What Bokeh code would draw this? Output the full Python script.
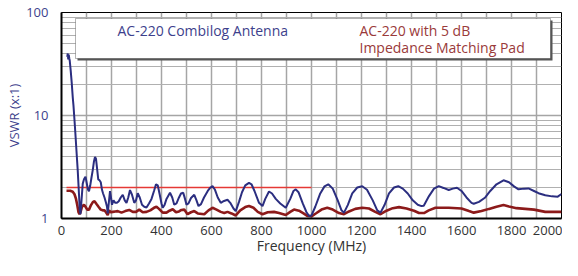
from bokeh.plotting import figure
from bokeh.models import Range1d, FixedTicker, BoxAnnotation, Label, PrintfTickFormatter
from bokeh.embed import file_html
from bokeh.resources import INLINE

# ---- data ----
blue_f = [23, 25, 27, 29, 31, 33, 37, 41, 45, 48, 52, 55, 60, 65, 69, 73, 76, 80, 85, 90,
          96, 101, 106, 110, 115, 120, 125, 130, 134, 138, 142, 147, 152, 157, 162, 166, 172, 178, 182, 185,
          189, 194, 198, 202, 208, 215, 222, 229, 237, 245, 253, 260, 267, 274, 282, 291, 298, 305, 313, 322,
          331, 340, 350, 360, 370, 378, 385, 393, 400, 405, 412, 420, 434, 443, 451, 460, 470, 478, 487, 494,
          500, 508, 518, 531, 540, 548, 558, 570, 585, 596, 604, 614, 625, 637, 650, 664, 675, 688, 697, 710,
          722, 735, 750, 760, 772, 790, 804, 815, 830, 842, 857, 875, 897, 915, 928, 937, 948, 965, 980, 990,
          1000, 1015, 1035, 1052, 1067, 1085, 1105, 1120, 1130, 1145, 1163, 1183, 1203, 1222, 1245, 1263, 1276, 1292, 1310, 1330,
          1347, 1365, 1385, 1405, 1425, 1440, 1449, 1470, 1490, 1509, 1528, 1549, 1565, 1582, 1600, 1620, 1640, 1649, 1670, 1695,
          1715, 1740, 1768, 1790, 1810, 1828, 1850, 1868, 1890, 1908, 1935, 1962, 1985, 2000]
blue_v = [37, 40, 35, 39, 36, 34, 27, 20.6, 15, 12.4, 9, 7.0, 4.5, 2.9, 1.9, 1.22, 1.1, 1.5, 2.18, 2.4,
          2.55, 2.2, 1.9, 1.84, 2.1, 2.5, 2.95, 3.6, 3.95, 3.8, 3.1, 2.4, 2.35, 2.25, 1.9, 1.76, 1.6, 1.42, 1.3, 1.12,
          1.4, 1.84, 1.6, 1.36, 1.5, 1.42, 1.42, 1.47, 1.6, 1.70, 1.5, 1.42, 1.6, 1.89, 1.7, 1.42, 1.5, 1.76, 1.6, 1.36,
          1.3, 1.28, 1.4, 1.55, 1.85, 2.15, 2.1, 1.7, 1.4, 1.27, 1.35, 1.55, 1.78, 1.6, 1.36, 1.4, 1.6, 1.75, 1.78, 1.55,
          1.36, 1.4, 1.58, 1.70, 1.5, 1.32, 1.38, 1.6, 1.85, 2.0, 2.06, 1.9, 1.6, 1.42, 1.48, 1.52, 1.42, 1.25, 1.18, 1.45,
          1.8, 2.1, 2.22, 2.15, 1.85, 1.42, 1.32, 1.55, 1.83, 1.75, 1.55, 1.4, 1.27, 1.55, 1.85, 1.92, 1.8, 1.4, 1.15, 1.06,
          1.07, 1.3, 1.75, 2.05, 2.15, 1.95, 1.5, 1.2, 1.14, 1.35, 1.75, 2.0, 2.06, 1.9, 1.5, 1.2, 1.14, 1.35, 1.75, 2.0,
          2.06, 1.95, 1.75, 1.5, 1.36, 1.32, 1.33, 1.65, 1.95, 2.06, 1.98, 1.89, 1.95, 1.99, 1.85, 1.6, 1.42, 1.39, 1.45, 1.6,
          1.85, 2.15, 2.35, 2.25, 2.05, 1.92, 1.95, 1.96, 1.85, 1.76, 1.68, 1.64, 1.63, 1.73]

red_f = [20, 35, 45, 52, 58, 63, 68, 72, 76, 82, 90, 96, 103, 110, 118, 126, 132, 140, 148, 157,
         165, 172, 178, 185, 190, 197, 205, 215, 225, 240, 255, 271, 285, 298, 311, 325, 340, 355, 370, 380,
         390, 405, 420, 432, 445, 458, 470, 480, 491, 504, 518, 531, 545, 571, 588, 604, 620, 637, 651, 664,
         680, 697, 715, 735, 750, 768, 785, 804, 825, 850, 870, 897, 915, 930, 950, 968, 983, 1000, 1020, 1040,
         1063, 1085, 1110, 1130, 1150, 1175, 1203, 1230, 1255, 1276, 1300, 1325, 1350, 1380, 1410, 1430, 1450, 1469, 1496, 1549,
         1600, 1630, 1649, 1680, 1710, 1740, 1768, 1790, 1820, 1855, 1890, 1935, 2000]
red_v = [1.86, 1.86, 1.82, 1.72, 1.55, 1.35, 1.15, 1.1, 1.15, 1.3, 1.36, 1.3, 1.22, 1.22, 1.35, 1.45, 1.47, 1.38, 1.3, 1.22,
         1.2, 1.2, 1.15, 1.08, 1.2, 1.15, 1.16, 1.17, 1.18, 1.14, 1.18, 1.21, 1.16, 1.16, 1.22, 1.15, 1.16, 1.2, 1.27, 1.30,
         1.24, 1.14, 1.14, 1.19, 1.23, 1.15, 1.17, 1.21, 1.22, 1.1, 1.15, 1.18, 1.12, 1.1, 1.2, 1.27, 1.22, 1.16, 1.13, 1.16,
         1.12, 1.07, 1.2, 1.29, 1.32, 1.27, 1.16, 1.1, 1.15, 1.16, 1.13, 1.08, 1.16, 1.22, 1.19, 1.12, 1.06, 1.05, 1.13, 1.22,
         1.27, 1.22, 1.13, 1.1, 1.17, 1.24, 1.27, 1.25, 1.16, 1.1, 1.19, 1.26, 1.29, 1.25, 1.19, 1.13, 1.13, 1.2, 1.27, 1.27,
         1.25, 1.18, 1.14, 1.18, 1.24, 1.3, 1.35, 1.31, 1.26, 1.24, 1.22, 1.16, 1.16]

ref_f = [20, 1000]
ref_v = [2, 2]

x_ticks = [0, 200, 400, 600, 800, 1000, 1200, 1400, 1600, 1800, 2000]
x_grid = list(range(0, 2001, 100))
y_ticks = [1, 10, 100]
y_minor = [2, 3, 4, 5, 6, 7, 8, 9, 20, 30, 40, 50, 60, 70, 80, 90]

x_title = "Frequency (MHz)"
y_title = "VSWR (x:1)"
name_blue = "AC-220 Combilog Antenna"
name_red_1 = "AC-220 with 5 dB"
name_red_2 = "Impedance Matching Pad"

BLUE = "#2b2e80"
RED = "#8c1a1a"
FONT = "Open Sans"

# frame geometry (canvas pixels)
W, H = 562, 260
LEFT, RIGHT, TOP, BOTTOM = 61, 1, 12, 42
FW = W - LEFT - RIGHT
FH = H - TOP - BOTTOM
PX_X = 2000 / FW            # MHz per pixel
PX_Y = 2.0 / FH             # decades per pixel


def fx(px):   # pixel offset from frame left -> MHz
    return px * PX_X


def fy(px):   # pixel offset below frame top -> VSWR (log axis)
    return 10 ** ((FH - px) * PX_Y)


p = figure(width=W, height=H, y_axis_type="log",
           x_range=Range1d(0, 2000), y_range=Range1d(1, 100),
           output_backend="svg", toolbar_location=None,
           min_border_left=LEFT, min_border_right=RIGHT,
           min_border_top=TOP, min_border_bottom=BOTTOM)
p.background_fill_color = "white"
p.border_fill_color = "white"
p.outline_line_color = "black"
p.outline_line_width = 1

# grid
p.xgrid.ticker = FixedTicker(ticks=x_grid)
p.xgrid.grid_line_color = "#a5a5a5"
p.xgrid.grid_line_width = 1.5
p.ygrid.ticker = FixedTicker(ticks=y_ticks, minor_ticks=y_minor)
p.ygrid.grid_line_color = "#a5a5a5"
p.ygrid.grid_line_width = 1.5
p.ygrid.minor_grid_line_color = "#b0b0b0"
p.ygrid.minor_grid_line_width = 1.2

# axes
p.xaxis.ticker = FixedTicker(ticks=x_ticks)
p.yaxis.ticker = FixedTicker(ticks=y_ticks, minor_ticks=y_minor)
p.yaxis.formatter = PrintfTickFormatter(format="%d")
for ax in (p.xaxis[0], p.yaxis[0]):
    ax.major_tick_out = 0
    ax.major_tick_in = 0
    ax.minor_tick_out = 0
    ax.minor_tick_in = 0
    ax.axis_line_color = "black"
    ax.axis_line_width = 2
    ax.major_label_text_font = FONT
    ax.major_label_text_font_size = "13px"
    ax.axis_label_text_font = FONT
    ax.axis_label_text_font_style = "normal"
p.xaxis.major_label_text_color = "#333333"
p.yaxis.major_label_text_color = "#3d3f8c"
p.xaxis.major_label_standoff = 7
p.yaxis.major_label_standoff = 13
p.xaxis.axis_label = x_title
p.xaxis.axis_label_text_font_size = "14px"
p.xaxis.axis_label_text_color = "#333333"
p.xaxis.axis_label_standoff = -2
p.yaxis.axis_label = y_title
p.yaxis.axis_label_text_font_size = "13px"
p.yaxis.axis_label_text_color = "#3d3f8c"
p.yaxis.axis_label_standoff = 0

# data lines
p.line(ref_f, ref_v, line_color="#e53935", line_width=1.6)
p.line(red_f, red_v, line_color=RED, line_width=2.6)
p.line(blue_f, blue_v, line_color=BLUE, line_width=2)

# legend (drawn by hand)
p.add_layout(BoxAnnotation(left=fx(16), right=fx(491), bottom=fy(48), top=fy(8),
                           fill_color="#555555", fill_alpha=1, line_alpha=0))
p.add_layout(BoxAnnotation(left=fx(14), right=fx(489), bottom=fy(46), top=fy(6),
                           fill_color="white", fill_alpha=1,
                           line_color="black", line_width=1))
p.segment(x0=[fx(31)], y0=[fy(18)], x1=[fx(51)], y1=[fy(18)], line_color="#6a6caa", line_width=1.5)
p.segment(x0=[fx(271)], y0=[fy(18)], x1=[fx(292)], y1=[fy(18)], line_color="#b06060", line_width=1.5)
p.add_layout(Label(x=fx(56), y=fy(18), text=name_blue, text_font=FONT, text_font_size="14px",
                   text_color="#3d3f8c", text_baseline="middle"))
p.add_layout(Label(x=fx(298), y=fy(18), text=name_red_1, text_font=FONT, text_font_size="14px",
                   text_color="#9a3a3a", text_baseline="middle"))
p.add_layout(Label(x=fx(298), y=fy(35), text=name_red_2, text_font=FONT, text_font_size="14px",
                   text_color="#9a3a3a", text_baseline="middle"))

open("out.html", "w").write(file_html(p, INLINE))
